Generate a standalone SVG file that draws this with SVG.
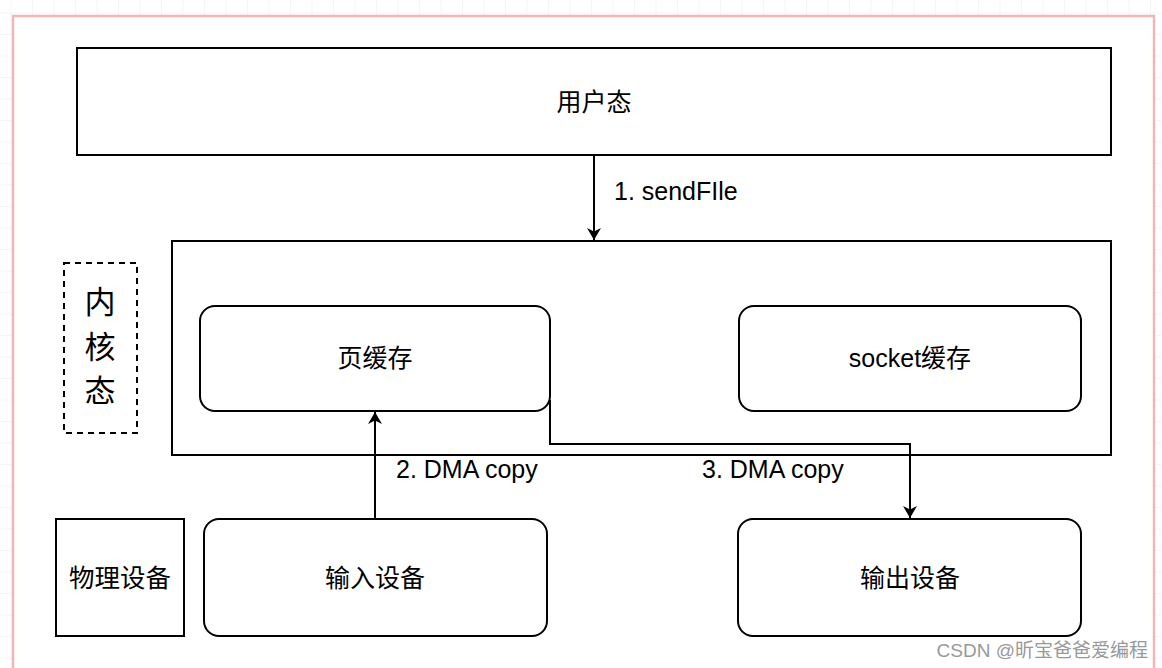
<svg xmlns="http://www.w3.org/2000/svg" width="1162" height="668" viewBox="0 0 1162 668">
<defs>
<pattern id="grid" width="21.5" height="21.5" patternUnits="userSpaceOnUse" x="11.5" y="13.5">
<path d="M21.5 0V21.5M0 21.5H21.5" fill="none" stroke="#ebebeb" stroke-width="1"/>
</pattern>
<marker id="ah" viewBox="0 0 12 14" refX="12" refY="7" markerWidth="12" markerHeight="14" markerUnits="userSpaceOnUse" orient="auto">
<path d="M0 0L12 7L0 14L3.5 7Z" fill="#000"/>
</marker>
<style>
.box{fill:#fff;stroke:#000;stroke-width:2}
.t{font-family:"Liberation Sans","Noto Sans CJK SC",sans-serif;font-size:25px;fill:#000;text-anchor:middle;dominant-baseline:central}
.lbl{font-family:"Liberation Sans","Noto Sans CJK SC",sans-serif;font-size:25px;fill:#000}
.edge{fill:none;stroke:#000;stroke-width:2}
</style>
</defs>
<rect width="1162" height="668" fill="#fff"/>
<rect width="1162" height="668" fill="url(#grid)"/>
<rect x="13" y="16" width="1141" height="670" fill="#fff" stroke="#f2b6b6" stroke-width="2.5"/>
<g id="user">
<rect class="box" x="77" y="48" width="1034" height="107"/>
<text class="t" x="594" y="102">用户态</text>
</g>
<g id="kernel">
<rect class="box" x="172" y="241" width="939" height="214"/>
</g>
<g id="kernel-label">
<rect x="64" y="263" width="73" height="170" fill="none" stroke="#000" stroke-width="2" stroke-dasharray="6,5"/>
<text class="t" x="100" y="302" style="font-size:31px">内</text>
<text class="t" x="100" y="347" style="font-size:31px">核</text>
<text class="t" x="100" y="391" style="font-size:31px">态</text>
</g>
<g id="pagecache">
<rect class="box" x="200" y="306" width="350" height="105" rx="15"/>
<text class="t" x="375" y="358">页缓存</text>
</g>
<g id="socketcache">
<rect class="box" x="739" y="306" width="342" height="105" rx="15"/>
<text class="t" x="910" y="358">socket缓存</text>
</g>
<g id="physical">
<rect class="box" x="56" y="519" width="128" height="117"/>
<text class="t" x="120" y="578" style="font-size:25.5px">物理设备</text>
</g>
<g id="input">
<rect class="box" x="204" y="519" width="343" height="117" rx="15"/>
<text class="t" x="375" y="578">输入设备</text>
</g>
<g id="output">
<rect class="box" x="738" y="519" width="343" height="117" rx="15"/>
<text class="t" x="910" y="578">输出设备</text>
</g>
<g id="connectors">
<path class="edge" d="M594 155V240" marker-end="url(#ah)"/>
<text class="lbl" x="614" y="200">1. sendFIle</text>
<path class="edge" d="M375 519V412" marker-end="url(#ah)"/>
<text class="lbl" x="396" y="478">2. DMA copy</text>
<path class="edge" d="M550 400V444H910V518" marker-end="url(#ah)"/>
<text class="lbl" x="702" y="478">3. DMA copy</text>
</g>
<text x="1148" y="657" style="font-family:'Liberation Sans','Noto Sans CJK SC',sans-serif;font-size:19px;fill:#999;text-anchor:end">CSDN @昕宝爸爸爱编程</text>
</svg>
